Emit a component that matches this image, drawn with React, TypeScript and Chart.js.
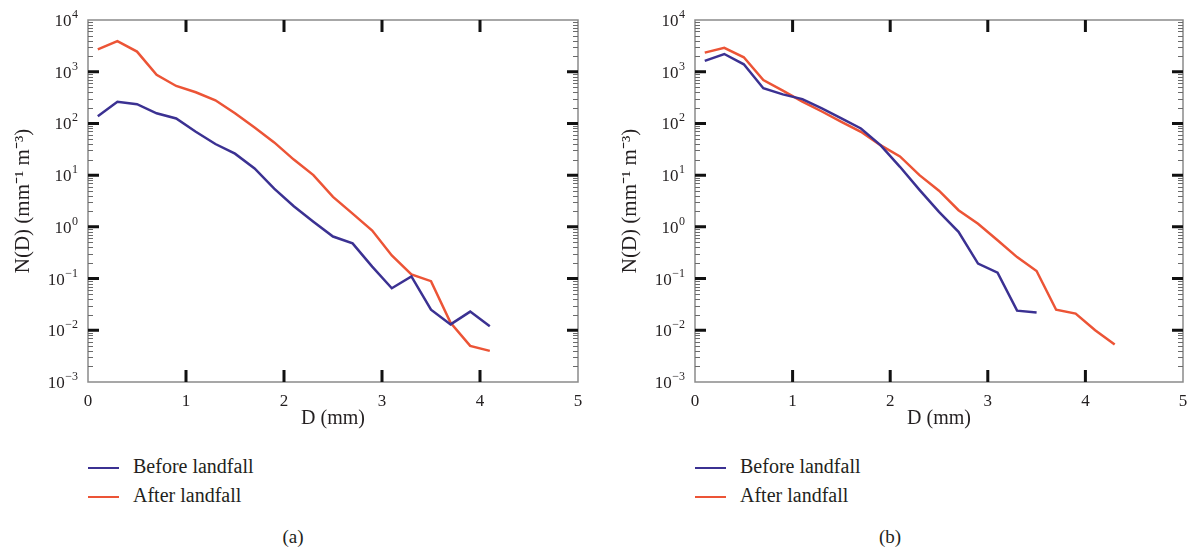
import React, { useEffect, useRef } from 'react';
import { Chart, registerables } from 'chart.js';

Chart.register(...registerables);

// Drop diameter bins (mm)
const D_VALUES = [0.1, 0.3, 0.5, 0.7, 0.9, 1.1, 1.3, 1.5, 1.7, 1.9, 2.1, 2.3, 2.5, 2.7, 2.9, 3.1, 3.3, 3.5, 3.7, 3.9, 4.1, 4.3];

// Panel (a)
const A_BEFORE = [138, 262, 235, 157, 125, 69, 40, 26, 13.5, 5.5, 2.5, 1.26, 0.65, 0.48, 0.17, 0.065, 0.11, 0.025, 0.013, 0.023, 0.012];
const A_AFTER = [2700, 3900, 2450, 870, 530, 400, 280, 157, 83, 43, 20, 10, 3.8, 1.8, 0.85, 0.28, 0.12, 0.089, 0.014, 0.005, 0.004];

// Panel (b)
const B_BEFORE = [1620, 2200, 1390, 480, 365, 295, 195, 125, 80, 38, 14.5, 5.2, 1.95, 0.8, 0.195, 0.13, 0.024, 0.022];
const B_AFTER = [2340, 2900, 1900, 690, 430, 265, 170, 107, 69, 38, 23, 10, 5, 2.1, 1.15, 0.55, 0.26, 0.14, 0.025, 0.021, 0.01, 0.0053];

const X_TICKS = [0, 1, 2, 3, 4, 5];
const Y_EXPONENTS = [-3, -2, -1, 0, 1, 2, 3, 4];
const SERIES_LABELS = ['Before landfall', 'After landfall'];
const X_TITLE = 'D (mm)';
const Y_TITLE = 'N(D) (mm\u207B\u00B9 m\u207B\u00B3)';
const CAPTIONS = ['(a)', '(b)'];

const BLUE = '#3b3192';
const RED = '#ec5436';
const TEXT = '#231f20';
const FONT = "'Liberation Serif', 'Times New Roman', serif";

const expText = (n: number) => String(n).replace('-', '\u2212');

const framePlugin = {
  id: 'frameTicks',
  afterDraw(chart: any) {
    const { ctx, chartArea } = chart;
    const { left, right, top, bottom } = chartArea;
    const xs = chart.scales.x;
    const ys = chart.scales.y;
    ctx.save();
    // frame
    ctx.strokeStyle = '#8a8a8a';
    ctx.lineWidth = 1.5;
    ctx.strokeRect(left, top, right - left, bottom - top);
    // minor y ticks
    ctx.strokeStyle = '#6a6a6a';
    ctx.lineWidth = 1;
    for (let e = Y_EXPONENTS[0]; e < Y_EXPONENTS[Y_EXPONENTS.length - 1]; e++) {
      for (let m = 2; m <= 9; m++) {
        const y = Math.round(ys.getPixelForValue(m * Math.pow(10, e))) + 0.5;
        ctx.beginPath();
        ctx.moveTo(left, y); ctx.lineTo(left + 5, y);
        ctx.moveTo(right, y); ctx.lineTo(right - 5, y);
        ctx.stroke();
      }
    }
    // major ticks
    ctx.strokeStyle = '#111';
    ctx.lineWidth = 3;
    Y_EXPONENTS.slice(1, -1).forEach((e) => {
      const y = ys.getPixelForValue(Math.pow(10, e));
      ctx.beginPath();
      ctx.moveTo(left, y); ctx.lineTo(left + 11, y);
      ctx.moveTo(right, y); ctx.lineTo(right - 11, y);
      ctx.stroke();
    });
    X_TICKS.slice(1, -1).forEach((v) => {
      const x = xs.getPixelForValue(v);
      ctx.beginPath();
      ctx.moveTo(x, top); ctx.lineTo(x, top + 12);
      ctx.moveTo(x, bottom); ctx.lineTo(x, bottom - 12);
      ctx.stroke();
    });
    // y tick labels: 10 with raised exponent
    ctx.fillStyle = TEXT;
    ctx.textBaseline = 'alphabetic';
    ctx.textAlign = 'right';
    ys.ticks.forEach((t: any) => {
      const y = ys.getPixelForValue(t.value);
      const ex = expText(Math.round(Math.log10(t.value)));
      ctx.font = `12px ${FONT}`;
      const ew = ctx.measureText(ex).width;
      const xr = left - 10;
      ctx.fillText(ex, xr, y - 2);
      ctx.font = `17px ${FONT}`;
      ctx.fillText('10', xr - ew - 0.5, y + 6);
    });
    ctx.restore();
  },
};

function Panel(props: { before: number[]; after: number[]; left: number; width: number; padRight: number; caption: string; captionX: number }) {
  const ref = useRef<HTMLCanvasElement | null>(null);
  useEffect(() => {
    if (!ref.current) return;
    const toPts = (arr: number[]) => arr.map((v, i) => ({ x: D_VALUES[i], y: v }));
    const chart = new Chart(ref.current, {
      type: 'line',
      data: {
        datasets: [
          { label: SERIES_LABELS[0], data: toPts(props.before), borderColor: BLUE, backgroundColor: BLUE, borderWidth: 2.5, pointRadius: 0, tension: 0 },
          { label: SERIES_LABELS[1], data: toPts(props.after), borderColor: RED, backgroundColor: RED, borderWidth: 2.5, pointRadius: 0, tension: 0 },
        ],
      },
      options: {
        responsive: false,
        animation: false,
        devicePixelRatio: 1,
        layout: { padding: { top: 20, right: props.padRight, bottom: 0, left: 0 } },
        plugins: { legend: { display: false }, tooltip: { enabled: false } },
        scales: {
          x: {
            type: 'linear',
            min: X_TICKS[0],
            max: X_TICKS[X_TICKS.length - 1],
            afterBuildTicks: (s: any) => { s.ticks = X_TICKS.map((v) => ({ value: v })); },
            afterFit: (s: any) => { s.height = 58; },
            grid: { display: false, drawTicks: false },
            border: { display: false },
            ticks: { padding: 9, color: TEXT, font: { family: FONT, size: 17 }, callback: (v: any) => String(v) },
            title: { display: true, text: X_TITLE, color: TEXT, font: { family: FONT, size: 20 }, padding: { top: 0, bottom: 9 } },
          },
          y: {
            type: 'logarithmic',
            min: Math.pow(10, Y_EXPONENTS[0]),
            max: Math.pow(10, Y_EXPONENTS[Y_EXPONENTS.length - 1]),
            afterBuildTicks: (s: any) => { s.ticks = Y_EXPONENTS.map((e) => ({ value: Math.pow(10, e) })); },
            afterFit: (s: any) => { s.width = 88; },
            grid: { display: false, drawTicks: false },
            border: { display: false },
            ticks: { display: false },
            title: { display: true, text: Y_TITLE, color: TEXT, font: { family: FONT, size: 21 }, padding: { top: 11, bottom: 0 } },
          },
        },
      },
      plugins: [framePlugin],
    });
    return () => chart.destroy();
  }, []);

  const legendText: React.CSSProperties = { position: 'absolute', fontFamily: FONT, fontSize: 20, lineHeight: '20px', color: TEXT, whiteSpace: 'nowrap' };
  const lx = props.left + 88;
  return (
    <>
      <div style={{ position: 'absolute', left: props.left, top: 0, width: props.width, height: 440 }}>
        <canvas ref={ref} width={props.width} height={440} style={{ display: 'block' }} />
      </div>
      <div style={{ position: 'absolute', left: lx, top: 467, width: 31, height: 2, background: BLUE }} />
      <div style={{ ...legendText, left: lx + 45, top: 456 }}>{SERIES_LABELS[0]}</div>
      <div style={{ position: 'absolute', left: lx, top: 496, width: 31, height: 2, background: RED }} />
      <div style={{ ...legendText, left: lx + 45, top: 485 }}>{SERIES_LABELS[1]}</div>
      <div style={{ ...legendText, left: props.captionX - 40, width: 80, textAlign: 'center', top: 527, fontSize: 19 }}>{props.caption}</div>
    </>
  );
}

export default function App() {
  return (
    <div style={{ position: 'absolute', left: 0, top: 0, width: 1197, height: 551, background: '#fff', overflow: 'hidden' }}>
      <Panel before={A_BEFORE} after={A_AFTER} left={0} width={598} padRight={20} caption={CAPTIONS[0]} captionX={293} />
      <Panel before={B_BEFORE} after={B_AFTER} left={607} width={590} padRight={14} caption={CAPTIONS[1]} captionX={890} />
    </div>
  );
}
